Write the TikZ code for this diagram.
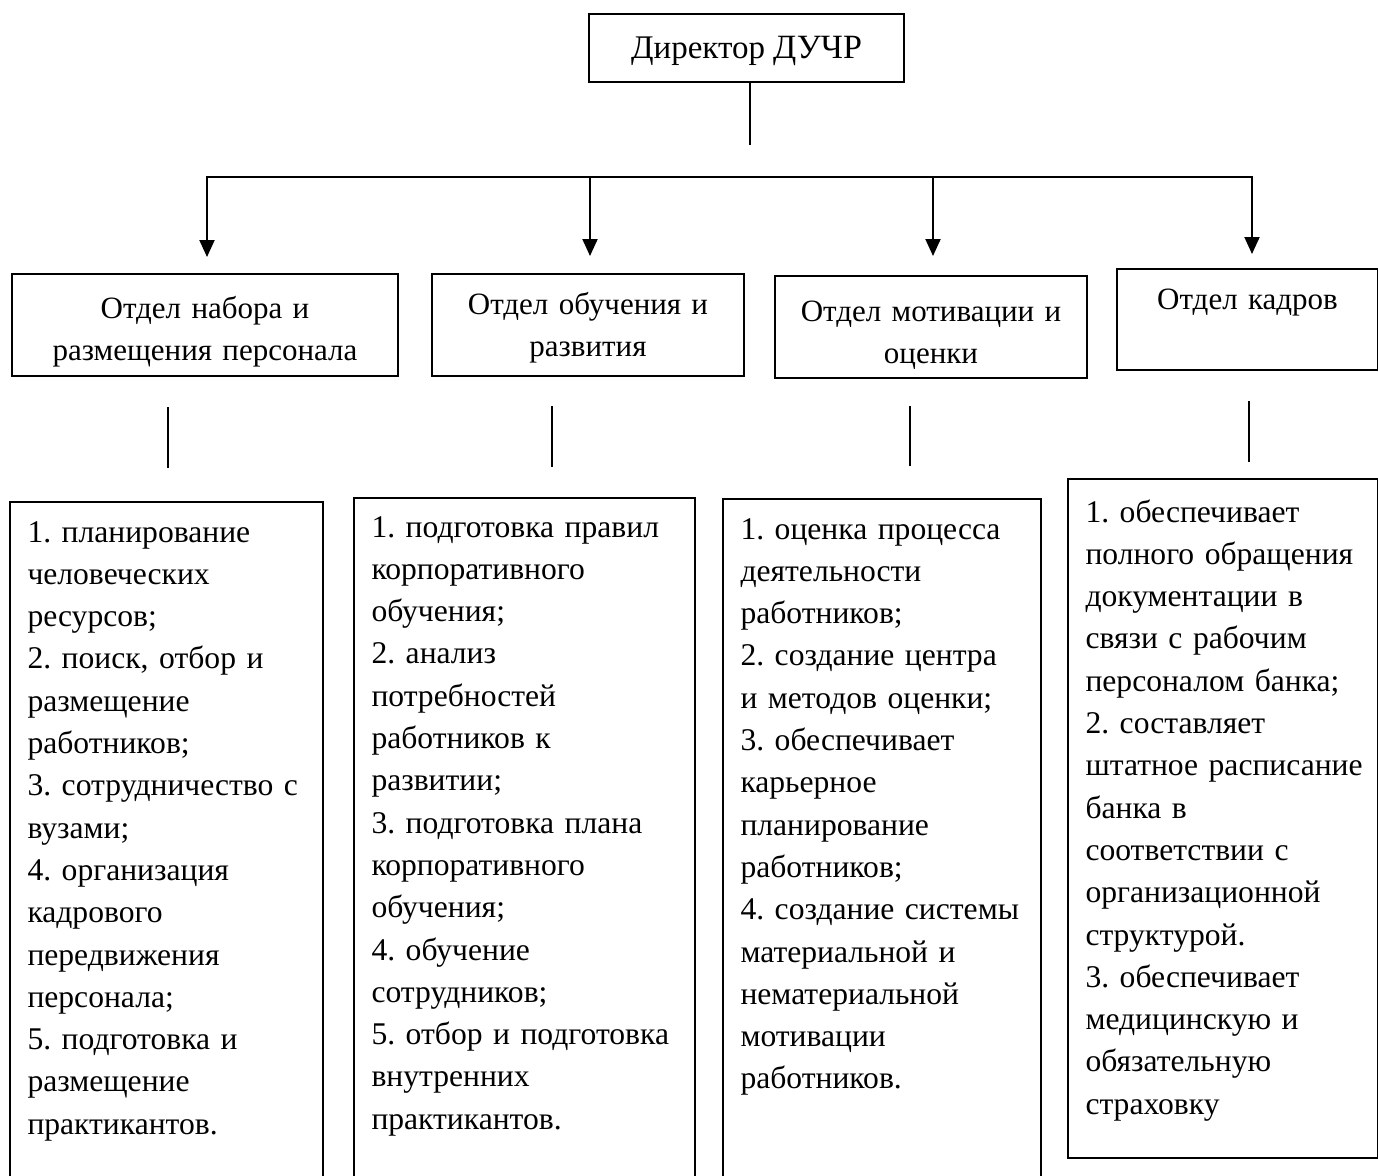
\documentclass[tikz,border=0pt]{standalone}
\usepackage{fontspec}
\setmainfont{Liberation Serif}
\usetikzlibrary{arrows.meta}
\frenchspacing

\begin{document}
\begin{tikzpicture}[x=1pt, y=-1pt,
  box/.style={draw, line width=2pt, inner sep=0pt, anchor=north west,
    font=\fontsize{31}{42.3}\selectfont},
  dept/.style={box, align=center},
  duty/.style={box, align=left, inner xsep=17.5pt, font=\fontsize{31.6}{42.3}\selectfont},
  link/.style={line width=2pt},
  arr/.style={link, -{Triangle[width=15pt,length=17pt]}}]
  \useasboundingbox (0,0) rectangle (1378,1175);
  \clip (0,0) rectangle (1378,1175);
  % nodes
	\node [box, minimum width=315pt, text height=44pt, text depth=24pt,
	  font=\fontsize{33}{40}\selectfont] (0) at (588, 13)
	  {Директор {\fontsize{34}{40}\selectfont ДУЧР}};
	%% departments
	\node [dept, text width=386pt, text height=44pt, text depth=58pt] (1) at (11, 273)
	  {Отдел набора и\\ размещения персонала};
	\node [dept, text width=312pt, text height=40pt, text depth=62pt] (2) at (431, 273)
	  {Отдел обучения и\\ развития};
	\node [dept, text width=312pt, text height=45pt, text depth=57pt] (3) at (774, 275)
	  {Отдел мотивации и\\ оценки};
	\node [dept, text width=261pt, text height=40pt, text depth=61pt] (4) at (1116, 268)
	  {Отдел кадров};
	%% duties
	\node [duty, text width=278pt, text height=40pt, text depth=700pt] (5) at (9, 501)
	  {1. планирование\\ человеческих\\ ресурсов;\\ 2. поиск, отбор и\\ размещение\\
	   работников;\\ \mbox{3. сотрудничество с}\\ вузами;\\ 4. организация\\ кадрового\\
	   передвижения\\ персонала;\\ 5. подготовка и\\ размещение\\ практикантов.};
	\node [duty, text width=306pt, text height=39pt, text depth=700pt] (6) at (353, 497)
	  {1. подготовка правил\\ корпоративного\\ обучения;\\ 2. анализ\\ потребностей\\
	   работников к\\ развитии;\\ 3. подготовка плана\\ корпоративного\\ обучения;\\
	   4. обучение\\ сотрудников;\\ \mbox{5. отбор и подготовка}\\ внутренних\\ практикантов.};
	\node [duty, text width=283pt, text height=40pt, text depth=700pt] (7) at (722, 498)
	  {1. оценка процесса\\ деятельности\\ работников;\\ 2. создание центра\\
	   и методов оценки;\\ 3. обеспечивает\\ карьерное\\ планирование\\ работников;\\
	   \mbox{4. создание системы}\\ материальной и\\ нематериальной\\ мотивации\\ работников.};
	\node [duty, text width=275pt, text height=43pt, text depth=636pt] (8) at (1067, 478)
	  {1. обеспечивает\\ \mbox{полного обращения}\\ документации в\\ связи с рабочим\\
	   \mbox{персоналом банка;}\\ 2. составляет\\ \mbox{штатное расписание}\\ банка в\\ соответствии с\\
	   организационной\\ структурой.\\ 3. обеспечивает\\ медицинскую и\\
	   обязательную\\ страховку};
	%% free ends
	\coordinate (9) at (750, 145);
	\coordinate (10) at (207, 177);
	\coordinate (11) at (590, 177);
	\coordinate (12) at (933, 177);
	\coordinate (13) at (1252, 177);
	\coordinate (14) at (207, 257);
	\coordinate (15) at (590, 256);
	\coordinate (16) at (933, 256);
	\coordinate (17) at (1252, 254);
	\coordinate (18) at (168, 407);
	\coordinate (19) at (168, 468);
	\coordinate (20) at (552, 406);
	\coordinate (21) at (552, 467);
	\coordinate (22) at (910, 406);
	\coordinate (23) at (910, 466);
	\coordinate (24) at (1249, 401);
	\coordinate (25) at (1249, 462);
	% edges
	\draw [link] (9 |- 0.south) to (9);
	\draw [link, line cap=rect] (10) to (13);
	\draw [arr] (10) to (14);
	\draw [arr] (11) to (15);
	\draw [arr] (12) to (16);
	\draw [arr] (13) to (17);
	\draw [link] (18) to (19);
	\draw [link] (20) to (21);
	\draw [link] (22) to (23);
	\draw [link] (24) to (25);
\end{tikzpicture}
\end{document}
